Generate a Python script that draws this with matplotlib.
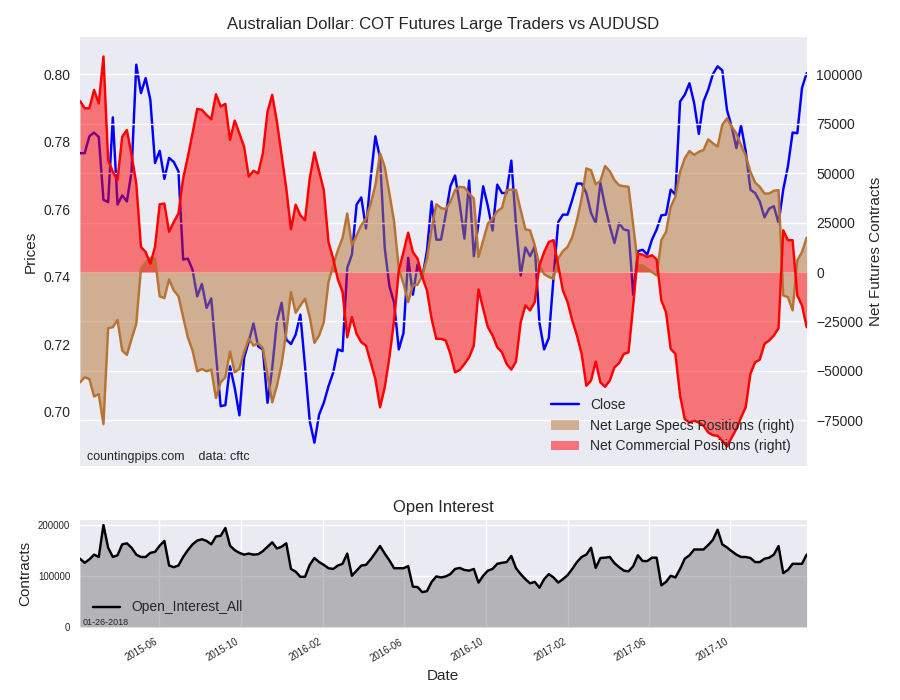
import matplotlib
matplotlib.use('Agg')
import matplotlib.pyplot as plt
import matplotlib.dates as mdates
from matplotlib.ticker import MultipleLocator
import pandas as pd

# weekly COT report dates (Tuesdays)
dates = pd.date_range('2015-02-03', '2018-01-23', freq='7D')

close = [0.7766, 0.7766, 0.7816, 0.7827, 0.7814, 0.7628, 0.7621, 0.7872, 0.7614, 0.7641,
         0.7623, 0.7712, 0.8028, 0.7944, 0.7988, 0.7924, 0.7737, 0.7773, 0.7690, 0.7752,
         0.7740, 0.7712, 0.7451, 0.7454, 0.7421, 0.7342, 0.7379, 0.7308, 0.7336, 0.7170,
         0.7017, 0.7020, 0.7135, 0.7071, 0.6990, 0.7160, 0.7209, 0.7262, 0.7194,
         0.7185, 0.7027, 0.7130, 0.7268, 0.7323, 0.7214, 0.7201, 0.7229, 0.7288, 0.7135,
         0.6973, 0.6909, 0.6992, 0.7027, 0.7076, 0.7116, 0.7185, 0.7180, 0.7426, 0.7466,
         0.7614, 0.7635, 0.7543, 0.7692, 0.7816, 0.7752, 0.7485, 0.7372, 0.7323, 0.7185,
         0.7234, 0.7456, 0.7347, 0.7436, 0.7397, 0.7476, 0.7623, 0.7510, 0.7510,
         0.7584, 0.7668, 0.7700, 0.7614, 0.7513, 0.7685, 0.7461, 0.7559, 0.7668, 0.7609,
         0.7537, 0.7673, 0.7648, 0.7648, 0.7744, 0.7554, 0.7404, 0.7487, 0.7461, 0.7490,
         0.7264, 0.7185, 0.7219, 0.7397, 0.7562, 0.7584, 0.7584, 0.7628, 0.7676, 0.7676,
         0.7648, 0.7589, 0.7559, 0.7678, 0.7609, 0.7550, 0.7500, 0.7559,
         0.7540, 0.7537, 0.7347, 0.7476, 0.7480, 0.7466, 0.7510, 0.7540, 0.7582, 0.7584,
         0.7658, 0.7643, 0.7919, 0.7939, 0.7973, 0.7914, 0.7823, 0.7919, 0.7954, 0.8000,
         0.8023, 0.8011, 0.7894, 0.7845, 0.7781, 0.7848, 0.7771, 0.7658, 0.7648, 0.7623,
         0.7576, 0.7602, 0.7609, 0.7559, 0.7658, 0.7727, 0.7827, 0.7825, 0.7959, 0.8003]

specs = [-55800, -53200, -54100, -62900, -61700, -76900, -28400, -27900, -24200, -39700,
         -41900, -33800, -26200, 1700, 4700, 7100, 6800, -12300, -13200, -3700,
         -9300, -12200, -22800, -33000, -39700, -50200, -49000, -50200, -49300, -63700,
         -55800, -53200, -40200, -50700, -49000, -40600, -33800, -37200, -36000,
         -38500, -52400, -65900, -57500, -46500, -30400, -10100, -20600, -16900, -13500,
         -22800, -35800, -32100, -25400, -5100, 3400, 11000, 17200, 29600, 13500,
         18600, 23700, 27000, 34600, 43900, 60000, 53200, 39700, 25400, 1700,
         -5900, -15200, -6800, -6400, -2000, 6800, 22000, 34300, 32400,
         31800, 35500, 41400, 43100, 42800, 39700, 37200, 7600, 16100, 24500,
         27000, 30800, 32400, 41400, 41700, 41400, 31300, 21600, 21100, 13500,
         3400, -1000, -2500, -3400, 6800, 10600, 12700, 17700, 26200, 37200,
         52400, 51500, 44400, 46000, 53600, 51000, 46500, 43900,
         43400, 43100, 23700, 3400, 3400, 1700, 0, -1700, 16100, 20300,
         33000, 38000, 50700, 57500, 61200, 59200, 60800, 61700, 67100, 65100,
         63400, 74400, 77700, 73500, 70100, 64200, 58800, 50700, 45300, 43100,
         39700, 39700, 41100, 41400, -11800, -12700, -19400, 5900, 10100, 17400]

commercial = [86500, 82800, 82800, 92100, 85300, 109000, 56600, 50700, 46500, 68400,
              71800, 59200, 44800, 12700, 10100, 4200, 12700, 34300, 34600, 20300,
              25400, 29600, 47300, 58300, 70100, 82500, 82000, 79400, 77200, 89900,
              83700, 85000, 66800, 76600, 70100, 63400, 48200, 51200, 49900,
              60000, 81100, 89600, 76100, 59200, 42300, 21600, 34100, 28700, 26200,
              47300, 60500, 51000, 41400, 15200, 6800, -3700, -10100, -33000, -22800,
              -31300, -35500, -37200, -45600, -54100, -68400, -58300, -43100, -24500, 800,
              10100, 19900, 10100, 6800, -2500, -9300, -23700, -33800, -33800,
              -34600, -41400, -50700, -49500, -46500, -43100, -37200, -8800, -18600, -27900,
              -32100, -38000, -40600, -46500, -49300, -45300, -25400, -16900, -19400, -15200,
              3400, 10100, 15200, 16100, 3400, -9300, -15200, -24500, -32100, -41400,
              -57500, -54900, -45300, -55800, -58000, -54900, -48200, -46000,
              -41400, -40600, -16900, 9300, 8800, 7600, 8500, 6400, -14400, -20300,
              -38900, -41400, -62500, -74400, -76100, -75200, -76100, -77700, -81100, -82500,
              -82800, -85300, -88200, -83700, -79400, -73500, -68400, -51500, -45600, -44300,
              -36300, -34600, -32100, -28400, 21100, 16100, 16100, -11800, -16900, -27900]

open_interest = [133300, 125300, 132000, 141300, 136700, 199000, 154700, 136700, 140000, 161300,
                 163300, 154700, 141300, 136700, 136700, 144700, 146700, 158700, 168000, 120000,
                 116700, 120000, 136700, 150000, 161300, 168700, 171300, 168000, 161300, 176700,
                 178000, 193300, 158700, 150000, 144700, 141300, 143300, 141300, 142000, 148000,
                 156700, 165300, 153300, 156700, 163300, 113300, 108000, 98000, 98000, 121300,
                 134700, 126700, 121300, 114700, 113300, 120000, 123300, 143300, 100000, 110000,
                 120000, 121300, 132000, 144700, 158000, 143300, 130000, 114700, 114700, 114700,
                 118700, 78700, 78000, 68000, 70000, 88000, 98700, 96700,
                 98700, 103300, 113300, 115300, 111300, 110000, 113300, 86700, 100000, 110000,
                 113300, 123300, 125300, 126700, 138700, 114700, 103300, 93300, 85300, 88000,
                 76700, 93300, 103300, 96700, 86700, 93300, 101300, 113300, 126700, 136700,
                 141300, 154700, 115300, 134700, 135300, 136700, 124700, 116700, 110000, 108700,
                 118700, 140000, 128700, 128700, 135300, 135300, 81300, 88000, 100000, 96700,
                 113300, 133300, 140000, 151300, 151300, 151300, 160000, 170000, 190000, 161300,
                 155300, 148000, 141300, 136700, 136700, 134700, 126700, 126700, 133300, 135300,
                 141300, 158000, 105300, 111300, 123300, 123300, 123300, 141300]

plt.style.use('seaborn-v0_8')

fig = plt.figure(figsize=(9, 7), dpi=100)
ax1 = fig.add_axes([0.0889, 0.3343, 0.8074, 0.6129])
ax2 = ax1.twinx()
ax3 = fig.add_axes([0.0889, 0.1043, 0.8074, 0.1529])

# price on the left axis
close_line, = ax1.plot(dates, close, color='blue', label='Close')
ax1.set_ylim(0.684, 0.811)
ax1.set_xlim(dates[0], dates[-1])
ax1.grid(False)
ax1.tick_params(labelbottom=False)
ax1.set_ylabel('Prices')
ax1.set_title('Australian Dollar: COT Futures Large Traders vs AUDUSD', fontsize=12)

# net positions on the right axis
spec_col = '#b87333'
ax2.plot(dates, specs, color=spec_col)
spec_fill = ax2.fill_between(dates, specs, 0, color=spec_col, alpha=0.5, linewidth=0)
ax2.plot(dates, commercial, color='red')
comm_fill = ax2.fill_between(dates, commercial, 0, color='red', alpha=0.5, linewidth=0)
ax2.yaxis.set_major_locator(MultipleLocator(25000))
ax2.grid(True, axis='y')
ax2.set_ylabel('Net Futures Contracts')
ax2.legend([close_line, spec_fill, comm_fill],
           ['Close', 'Net Large Specs Positions (right)', 'Net Commercial Positions (right)'],
           loc='lower right')
ax2.text(0.01, 0.015, 'countingpips.com    data: cftc', transform=ax2.transAxes, fontsize=9)

# open interest panel
ax3.plot(dates, open_interest, color='black', label='Open_Interest_All')
ax3.fill_between(dates, open_interest, 0, color='grey', alpha=0.5, linewidth=0)
ax3.set_xlim(dates[0], dates[-1])
ax3.set_ylim(0, max(open_interest) * 1.05)
ax3.set_yticks([0, 100000, 200000])
ax3.xaxis.set_major_locator(mdates.MonthLocator(bymonth=[2, 6, 10]))
ax3.xaxis.set_major_formatter(mdates.DateFormatter('%Y-%m'))
ax3.tick_params(labelsize=7)
plt.setp(ax3.get_xticklabels(), rotation=30, ha='right')
ax3.set_title('Open Interest', fontsize=12)
ax3.set_ylabel('Contracts')
ax3.set_xlabel('Date')
ax3.legend(loc='lower left')
ax3.text(0.004, 0.02, '01-26-2018', transform=ax3.transAxes, fontsize=6.5)

fig.savefig('out.png', dpi=100)
